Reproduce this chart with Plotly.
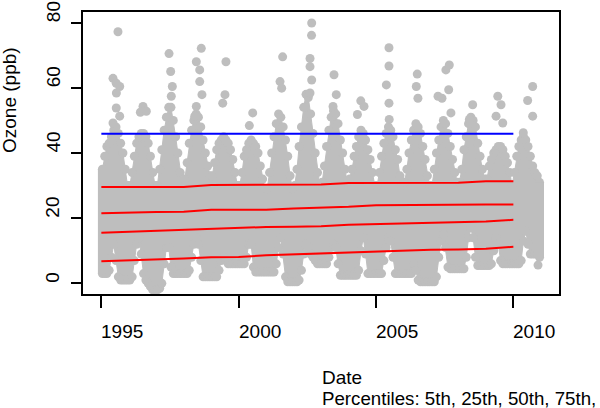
import plotly.graph_objects as go

# ---------------- data ----------------
years = list(range(1995, 2011))
months = [f"{y}-{m:02d}-15" for y in years for m in range(1, 13)]

# monthly upper edge of the dense daily cloud (ppb), Jan..Dec per year
cloud_upper = [
    35, 39, 42, 43, 45, 47, 48, 46, 43, 40, 35, 30,   # 1995
    30, 34, 39, 43, 45, 46, 46, 45, 43, 39, 34, 30,   # 1996
    30, 35, 41, 47, 51, 54, 54, 50, 45, 40, 34, 30,   # 1997
    32, 37, 43, 47, 50, 52, 51, 48, 44, 40, 36, 33,   # 1998
    33, 37, 41, 43, 44, 45, 44, 43, 41, 38, 34, 30,   # 1999
    30, 34, 39, 41, 43, 44, 43, 42, 40, 36, 32, 29,   # 2000
    29, 34, 40, 45, 49, 52, 51, 48, 44, 39, 33, 29,   # 2001
    30, 35, 42, 48, 54, 58, 57, 52, 46, 40, 34, 30,   # 2002
    31, 36, 42, 47, 51, 53, 52, 49, 44, 40, 35, 31,   # 2003
    32, 35, 39, 42, 45, 47, 46, 44, 41, 38, 34, 30,   # 2004
    30, 34, 39, 43, 46, 48, 47, 45, 41, 38, 33, 30,   # 2005
    31, 35, 40, 44, 47, 49, 48, 46, 42, 38, 33, 30,   # 2006
    30, 35, 40, 44, 48, 50, 49, 46, 42, 38, 34, 31,   # 2007
    31, 35, 41, 45, 49, 51, 50, 48, 43, 39, 35, 32,   # 2008
    32, 36, 38, 40, 41, 42, 42, 41, 39, 37, 34, 30,   # 2009
    34, 39, 42, 44, 45, 44, 42, 39, 36, 34, 33, 31,   # 2010
]

# monthly lower edge of the dense daily cloud (ppb)
cloud_lower = [
    3, 3, 3, 4, 8, 12, 7, 2, 1, 1, 1, 1,              # 1995
    1, 2, 7, 12, 14, 9, 3, 1, 0, -1, -2, -2,          # 1996
    -2, -1.5, 0, 6, 11, 11, 5, 3, 3, 3, 3, 3,         # 1997
    3, 3, 4, 8, 12, 14, 12, 7, 2, 2, 2, 2,            # 1998
    2, 2, 2, 4, 7, 8, 7, 6, 6, 6, 6, 6,               # 1999
    6, 6, 6, 8, 12, 12, 5, 3.5, 3.5, 3.5, 3.5, 3.5,   # 2000
    3.5, 3.5, 3.5, 3.5, 6, 11, 14, 9, 2, 0.5, 0.5, 0.5,  # 2001
    0.5, 0.5, 1, 4, 9, 12, 11, 9, 8, 7, 6, 6,         # 2002
    6, 6, 6, 8, 11, 12, 11, 6, 2.5, 2.5, 2.5, 2.5,    # 2003
    2.5, 2.5, 2.5, 2.5, 4, 10, 14, 9, 3, 3, 3, 3,     # 2004
    3, 3, 3, 7, 11, 14, 13, 8, 3, 3, 3, 3,            # 2005
    3, 3, 3, 3, 6, 4, 1, 0.5, 0.5, 0.5, 0.5, 0.5,     # 2006
    0.5, 0.5, 2, 8, 13, 15, 11, 5, 4.5, 4.5, 4.5, 4.5,  # 2007
    4.5, 4.5, 4.5, 8, 14, 17, 14, 8, 5.5, 5.5, 5.5, 5.5,  # 2008
    5.5, 5.5, 6, 10, 14, 12, 7, 6, 6, 6, 6, 6,        # 2009
    6, 6, 6, 7, 13, 16, 12, 9, 9, 9, 9, 8,            # 2010
]

# isolated high daily values above the dense cloud
peak_dates = [
    "1995-08-10", "1995-06-05", "1995-07-18", "1995-09-02", "1995-07-20", "1995-07-18", "1995-09-02", "1995-06-05",
    "1996-07-08", "1996-06-03", "1996-08-21",
    "1997-06-19", "1997-07-11", "1997-08-02", "1997-07-19",
    "1998-08-22", "1998-06-17", "1998-08-01", "1998-08-01", "1998-08-31", "1998-06-17", "1998-05-27",
    "1999-07-16", "1999-07-03", "1999-06-03",
    "2000-07-06", "2000-05-22",
    "2001-08-08", "2001-07-04", "2001-07-26",
    "2002-08-29", "2002-08-27", "2002-08-07", "2002-08-07", "2002-08-29", "2002-08-07",
    "2003-06-22", "2003-07-22", "2003-06-09",
    "2004-06-12", "2004-07-25", "2004-04-28",
    "2005-06-22", "2005-06-22", "2005-05-18", "2005-06-22", "2005-06-25",
    "2006-07-03", "2006-06-20", "2006-07-12",
    "2007-04-05", "2007-07-19", "2007-09-02", "2007-08-25", "2007-05-28", "2007-09-24",
    "2008-07-09", "2008-05-26",
    "2009-06-08", "2009-07-21", "2009-05-16", "2009-08-13",
    "2010-09-15", "2010-07-10", "2010-09-15", "2010-05-13", "2010-11-25",
]
peak_values = [
    77.2, 62.9, 61.4, 60.4, 58.4, 53.8, 51.3, 49.2,
    54.3, 52.5, 52.8,
    70.5, 65.0, 60.4, 57.4,
    72.1, 68.0, 65.5, 61.9, 57.9, 54.3, 51.3,
    68.0, 57.9, 55.3,
    52.3, 48.4,
    69.5, 61.9, 59.9,
    79.9, 76.1, 69.0, 66.5, 62.4, 58.4,
    64.0, 57.9, 54.3,
    56.0, 54.3, 51.8,
    72.3, 66.7, 60.9, 55.3, 50.3,
    64.2, 60.4, 56.8,
    57.4, 65.5, 67.0, 59.4, 56.8, 52.3,
    54.8, 50.3,
    57.4, 54.8, 51.3, 49.2,
    60.4, 56.1, 51.3, 46.2, 5.6,
]

# annual percentile trend lines (ppb)
pct_dates = [f"{y}-01-01" for y in years]
p05 = [6.8, 7.0, 7.4, 7.6, 8.0, 8.1, 8.6, 8.9, 9.1, 9.4, 9.8, 9.9, 10.3, 10.4, 10.6, 11.2]
p25 = [15.5, 15.8, 16.1, 16.4, 16.7, 17.2, 17.3, 17.4, 17.5, 18.0, 18.2, 18.5, 18.8, 18.9, 19.0, 19.5]
p50 = [21.5, 21.8, 21.9, 22.0, 22.6, 22.6, 22.6, 23.0, 23.2, 23.5, 24.0, 24.1, 24.1, 24.2, 24.2, 24.2]
p75 = [29.6, 29.6, 29.6, 29.6, 30.2, 30.2, 30.2, 30.2, 30.3, 30.8, 30.8, 30.8, 30.8, 30.9, 31.3, 31.3]
p95 = [45.9, 45.9, 45.9, 45.9, 45.9, 45.9, 45.9, 45.9, 45.9, 45.9, 45.9, 45.9, 45.9, 45.9, 45.9, 45.9]

x_tick_vals = ["1995-01-01", "2000-01-01", "2005-01-01", "2010-01-01"]
x_tick_text = ["1995", "2000", "2005", "2010"]
y_tick_vals = [0, 20, 40, 60, 80]
y_tick_text = ["0", "20", "40", "60", "80"]

# ---------------- styling ----------------
GREY = "#BEBEBE"
FONT = "Liberation Sans, Arial, sans-serif"
FS = 19
W, H = 600, 408
L_M, R_M, T_M, B_M = 83, 41, 10, 114
PW, PH = W - L_M - R_M, H - T_M - B_M


def px_x(px):
    return (px - L_M) / PW


def px_y(py):
    return (H - B_M - py) / PH


fig = go.Figure()

# dense cloud body (filled band between the monthly edges)
fig.add_trace(go.Scatter(x=months + months[::-1], y=cloud_upper + cloud_lower[::-1],
                         mode="lines", fill="toself", fillcolor=GREY,
                         line=dict(color=GREY, width=1), hoverinfo="skip"))
# round dots along both edges
fig.add_trace(go.Scatter(x=months + months, y=cloud_upper + cloud_lower, mode="markers",
                         marker=dict(size=9, color=GREY), hoverinfo="skip"))
# left/right ends of the cloud
fig.add_trace(go.Scatter(x=[months[0], months[0], None, months[-1], months[-1]],
                         y=[cloud_lower[0], cloud_upper[0], None, cloud_lower[-1], cloud_upper[-1]],
                         mode="lines", line=dict(color=GREY, width=9), hoverinfo="skip"))
# isolated points
fig.add_trace(go.Scatter(x=peak_dates, y=peak_values, mode="markers",
                         marker=dict(size=9, color=GREY), hoverinfo="skip"))

for series in (p75, p50, p25, p05):
    fig.add_trace(go.Scatter(x=pct_dates, y=series, mode="lines",
                             line=dict(color="#FF0000", width=2)))
fig.add_trace(go.Scatter(x=pct_dates, y=p95, mode="lines",
                         line=dict(color="#0000FF", width=2)))

annotations = []
for v, t in zip(x_tick_vals, x_tick_text):
    annotations.append(dict(x=v, xref="x", y=px_y(319.5), yref="paper", text=t,
                            showarrow=False, xanchor="left", yanchor="top", xshift=-2,
                            font=dict(family=FONT, size=FS, color="black")))
for v, t in zip(y_tick_vals, y_tick_text):
    annotations.append(dict(x=px_x(40.5), xref="paper", y=v, yref="y", text=t,
                            showarrow=False, xanchor="left", yanchor="bottom", textangle=-90,
                            yshift=-2, font=dict(family=FONT, size=FS, color="black")))
annotations.append(dict(x=px_x(-3.5), xref="paper", y=px_y(152), yref="paper",
                        text="Ozone (ppb)", showarrow=False, xanchor="left", yanchor="bottom",
                        textangle=-90, yshift=-2, font=dict(family=FONT, size=FS, color="black")))
annotations.append(dict(x=px_x(320), xref="paper", y=px_y(366), yref="paper", text="Date",
                        showarrow=False, xanchor="left", yanchor="top",
                        font=dict(family=FONT, size=FS, color="black")))
annotations.append(dict(x=px_x(320), xref="paper", y=px_y(387), yref="paper",
                        text="Percentiles: 5th, 25th, 50th, 75th,",
                        showarrow=False, xanchor="left", yanchor="top",
                        font=dict(family=FONT, size=18.7, color="black")))

fig.update_layout(
    width=W, height=H,
    margin=dict(l=L_M, r=R_M, t=T_M, b=B_M),
    paper_bgcolor="white", plot_bgcolor="white",
    showlegend=False,
    font=dict(family=FONT, size=FS, color="black"),
    annotations=annotations,
)
fig.update_xaxes(type="date", range=["1994-05-02", "2011-08-31"],
                 tickmode="array", tickvals=x_tick_vals, showticklabels=False,
                 ticks="outside", ticklen=12, tickwidth=1.5, tickcolor="black",
                 showline=True, linecolor="black", linewidth=1.5, mirror=True,
                 showgrid=False, zeroline=False)
fig.update_yaxes(range=[-3.26, 83.26],
                 tickmode="array", tickvals=y_tick_vals, showticklabels=False,
                 ticks="outside", ticklen=10.5, tickwidth=1.5, tickcolor="black",
                 showline=True, linecolor="black", linewidth=1.5, mirror=True,
                 showgrid=False, zeroline=False)

fig.write_html("out.html", config={"displayModeBar": False},
               post_script="document.body.style.margin='0px';document.body.style.overflow='hidden';")
